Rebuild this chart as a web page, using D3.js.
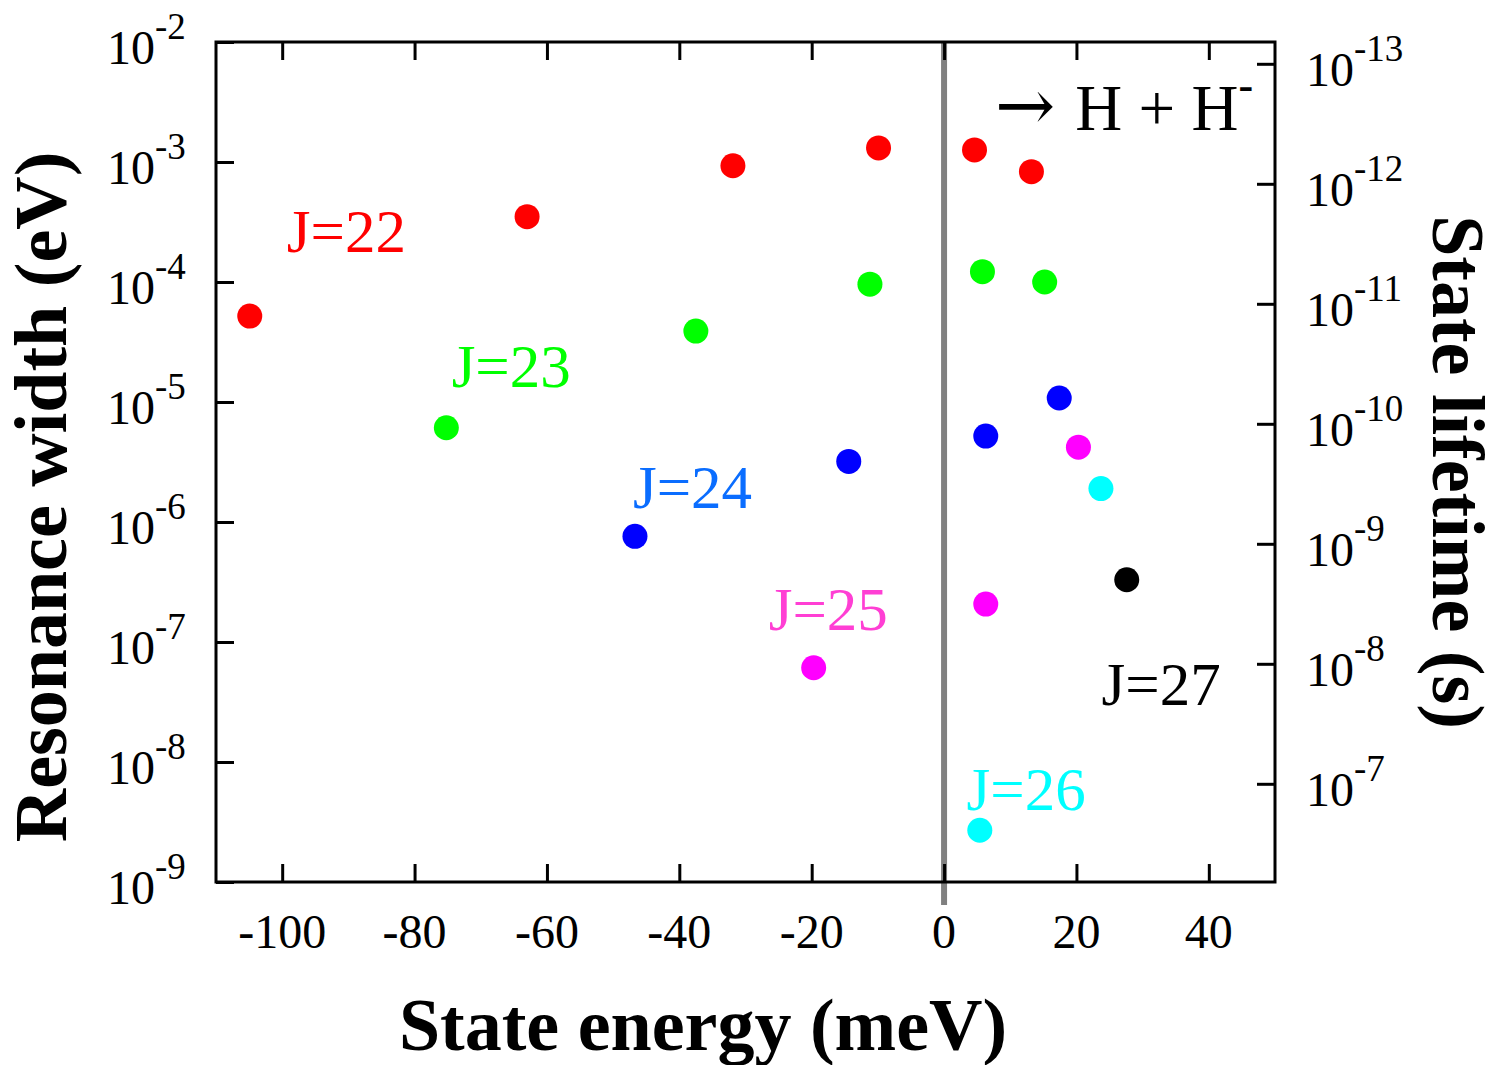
<!DOCTYPE html>
<html>
<head>
<meta charset="utf-8">
<script src="https://cdn.jsdelivr.net/npm/d3@7"></script>
<style>
  body { margin: 0; background: #fff; }
  svg { display: block; }
  text { font-family: "Liberation Serif", "Times New Roman", serif; }
</style>
</head>
<body>
<svg id="chart" width="1491" height="1065"></svg>
<script>
// ---------------- data ----------------
const seriesNames = ["J=22", "J=23", "J=24", "J=25", "J=26", "J=27"];
const dotColors   = ["#ff0000", "#00ff00", "#0000ff", "#ff00ff", "#00ffff", "#000000"];
const labelColors = ["#ff0000", "#00ff00", "#0a6dff", "#ff3fd4", "#00ffff", "#000000"];

// State energy (meV)
const energyJ22 = [-104.9, -63.0, -31.9, -9.9, 4.6, 13.2];
const energyJ23 = [-75.2, -37.5, -11.2, 5.8, 15.2];
const energyJ24 = [-46.7, -14.4, 6.3, 17.4];
const energyJ25 = [-19.7, 6.3, 20.3];
const energyJ26 = [5.4, 23.7];
const energyJ27 = [27.6];

// Resonance width (eV)
const widthJ22 = [5.2e-5, 3.5e-4, 9.3e-4, 1.31e-3, 1.26e-3, 8.3e-4];
const widthJ23 = [6.1e-6, 3.9e-5, 9.6e-5, 1.22e-4, 1.0e-4];
const widthJ24 = [7.6e-7, 3.2e-6, 5.2e-6, 1.08e-5];
const widthJ25 = [6.1e-8, 2.07e-7, 4.2e-6];
const widthJ26 = [2.7e-9, 1.9e-6];
const widthJ27 = [3.3e-7];

// tick values
const xTicks = [-100, -80, -60, -40, -20, 0, 20, 40];
const widthTickExp = [-2, -3, -4, -5, -6, -7, -8, -9];
const lifetimeTickExp = [-13, -12, -11, -10, -9, -8, -7];

// label anchors in data units (energy, log10 width)
const labelEnergy = [-99.3, -74.4, -47.0, -26.5, 3.4, 23.8];
const labelLogWidth = [-3.75, -4.875, -5.883, -6.9, -8.4, -7.525];

const HBAR = 6.582e-16; // eV*s, lifetime = hbar / width

// ---------------- layout ----------------
const L = 216, R = 1275, T = 42, B = 882;
const svg = d3.select("#chart");

const x = d3.scaleLinear().domain([-110, 50]).range([L, R]);
const y = d3.scaleLog().domain([1e-2, 1e-9]).range([T, B]);
const yR = d3.scaleLog().domain([HBAR / 1e-2, HBAR / 1e-9]).range([T, B]);

const tickLen = 18, tickW = 3;

// zero line
svg.append("line")
  .attr("x1", x(0)).attr("x2", x(0))
  .attr("y1", T).attr("y2", 905)
  .attr("stroke", "#808080").attr("stroke-width", 6);

// axes via d3 (ticks inward, no labels)
const gB = svg.append("g").attr("transform", `translate(0,${B})`)
  .call(d3.axisBottom(x).tickValues(xTicks).tickSizeInner(-tickLen).tickSizeOuter(0).tickFormat(""));
const gT = svg.append("g").attr("transform", `translate(0,${T})`)
  .call(d3.axisTop(x).tickValues(xTicks).tickSizeInner(-tickLen).tickSizeOuter(0).tickFormat(""));
const gL = svg.append("g").attr("transform", `translate(${L},0)`)
  .call(d3.axisLeft(y).tickValues(widthTickExp.map(e => Math.pow(10, e))).tickSizeInner(-tickLen).tickSizeOuter(0).tickFormat(""));
const gR = svg.append("g").attr("transform", `translate(${R},0)`)
  .call(d3.axisRight(yR).tickValues(lifetimeTickExp.map(e => Math.pow(10, e))).tickSizeInner(-tickLen).tickSizeOuter(0).tickFormat(""));
[gB, gT, gL, gR].forEach(g => {
  g.select(".domain").remove();
  g.selectAll(".tick line").attr("stroke", "#000").attr("stroke-width", tickW);
});

// frame
svg.append("rect")
  .attr("x", L).attr("y", T).attr("width", R - L).attr("height", B - T)
  .attr("fill", "none").attr("stroke", "#000").attr("stroke-width", 3);

// bottom tick labels
svg.append("g").selectAll("text").data(xTicks).join("text")
  .attr("x", d => x(d)).attr("y", 948)
  .attr("text-anchor", "middle").attr("font-size", 48)
  .text(d => String(d));

// left tick labels 10^n
const leftLab = svg.append("g").selectAll("text").data(widthTickExp).join("text")
  .attr("x", 107).attr("y", d => y(Math.pow(10, d)) + 22)
  .attr("font-size", 48);
leftLab.append("tspan").text("10");
leftLab.append("tspan").attr("dy", -25).attr("font-size", 37).text(d => "-" + Math.abs(d));

// right tick labels 10^n
const rightLab = svg.append("g").selectAll("text").data(lifetimeTickExp).join("text")
  .attr("x", 1306).attr("y", d => yR(Math.pow(10, d)) + 22)
  .attr("font-size", 48);
rightLab.append("tspan").text("10");
rightLab.append("tspan").attr("dy", -25).attr("font-size", 37).text(d => "-" + Math.abs(d));

// axis titles
svg.append("text")
  .attr("x", 703).attr("y", 1050).attr("text-anchor", "middle")
  .attr("font-size", 74).attr("font-weight", "bold")
  .text("State energy (meV)");
svg.append("text")
  .attr("transform", "translate(66,497) rotate(-90)")
  .attr("text-anchor", "middle").attr("font-size", 74).attr("font-weight", "bold")
  .text("Resonance width (eV)");
svg.append("text")
  .attr("transform", "translate(1433,472) rotate(90)")
  .attr("text-anchor", "middle").attr("font-size", 74).attr("font-weight", "bold")
  .text("State lifetime (s)");

// points
const energies = [energyJ22, energyJ23, energyJ24, energyJ25, energyJ26, energyJ27];
const widths = [widthJ22, widthJ23, widthJ24, widthJ25, widthJ26, widthJ27];
const points = [];
seriesNames.forEach((name, i) => {
  energies[i].forEach((e, k) => points.push({ e, w: widths[i][k], c: dotColors[i] }));
});
svg.append("g").selectAll("circle").data(points).join("circle")
  .attr("cx", d => x(d.e)).attr("cy", d => y(d.w))
  .attr("r", 12.5).attr("fill", d => d.c);

// series labels
svg.append("g").selectAll("text").data(seriesNames).join("text")
  .attr("x", (d, i) => x(labelEnergy[i]))
  .attr("y", (d, i) => y(Math.pow(10, labelLogWidth[i])))
  .attr("font-size", 61).attr("fill", (d, i) => labelColors[i])
  .text(d => d);

// channel annotation
const ann = svg.append("text")
  .attr("x", x(8.0) - 2).attr("y", y(Math.pow(10, -2.733)))
  .attr("font-size", 65).attr("fill", "#000");
ann.append("tspan").attr("font-family", "DejaVu Serif").attr("font-size", 72).text("\u2192");
ann.append("tspan").attr("dx", 20).text("H + H");
ann.append("tspan").attr("dy", -30).attr("font-size", 44).attr("font-weight", "bold").text("-");
</script>
</body>
</html>
